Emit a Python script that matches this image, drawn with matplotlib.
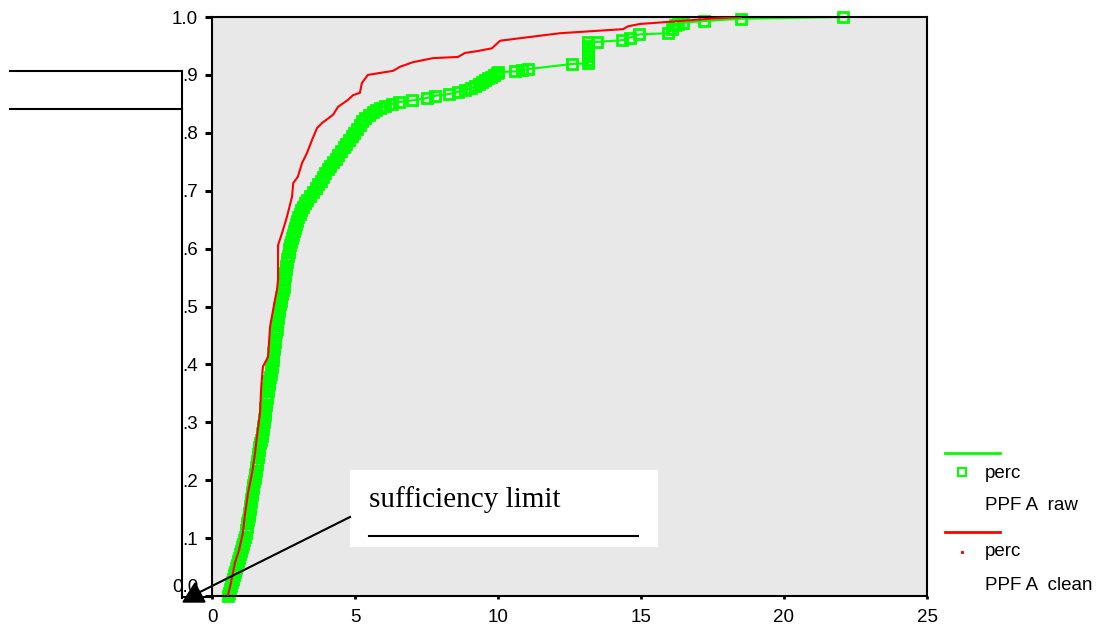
import matplotlib
matplotlib.use("Agg")
import matplotlib.pyplot as plt
from matplotlib.lines import Line2D
from matplotlib.patches import Polygon, Rectangle

# PPF A raw (green, square markers)
raw_x = [0.56, 0.60, 0.63, 0.66, 0.70, 0.73, 0.76, 0.79, 0.83, 0.87, 0.90, 0.94, 0.98, 1.02, 1.05,
         1.08, 1.11, 1.14, 1.18, 1.20, 1.22, 1.24, 1.26, 1.28, 1.30, 1.32, 1.34, 1.35, 1.37, 1.39,
         1.41, 1.43, 1.45, 1.47, 1.49, 1.51, 1.53, 1.55, 1.57, 1.58, 1.60, 1.62, 1.64, 1.66, 1.69,
         1.72, 1.75, 1.76, 1.78, 1.79, 1.81, 1.83, 1.85, 1.86, 1.87, 1.89, 1.90, 1.92, 1.93, 1.95,
         1.97, 1.99, 2.01, 2.03, 2.05, 2.07, 2.09, 2.11, 2.12, 2.14, 2.15, 2.17, 2.18, 2.20, 2.21,
         2.22, 2.24, 2.26, 2.27, 2.29, 2.30, 2.32, 2.34, 2.36, 2.38, 2.41, 2.43, 2.46, 2.49, 2.51,
         2.52, 2.53, 2.55, 2.56, 2.57, 2.59, 2.61, 2.63, 2.65, 2.68, 2.70, 2.73, 2.76, 2.79, 2.82,
         2.85, 2.90, 2.94, 2.97, 3.00, 3.06, 3.12, 3.18, 3.24, 3.32, 3.42, 3.52, 3.62, 3.72, 3.80,
         3.88, 3.96, 4.04, 4.14, 4.23, 4.32, 4.42, 4.52, 4.60, 4.68, 4.78, 4.88, 4.98, 5.08, 5.16,
         5.24, 5.35, 5.48, 5.62, 5.75, 5.87, 6.05, 6.30, 6.55, 7.00, 7.50, 7.80, 8.30, 8.60, 8.85,
         9.05, 9.20, 9.35, 9.44, 9.55, 9.65, 9.75, 9.85, 9.95, 10.00, 10.60, 10.85, 11.05, 12.60,
         13.15, 13.15, 13.15, 13.15, 13.15, 13.15, 13.15, 13.47, 14.34, 14.60, 14.94, 15.95, 16.08,
         16.20, 16.30, 16.48, 17.20, 18.50, 22.07]
raw_y = [0.000, 0.006, 0.012, 0.018, 0.024, 0.030, 0.036, 0.042, 0.048, 0.054, 0.060, 0.066, 0.072,
         0.078, 0.084, 0.090, 0.096, 0.102, 0.108, 0.114, 0.120, 0.126, 0.132, 0.138, 0.144, 0.150,
         0.156, 0.162, 0.168, 0.174, 0.180, 0.186, 0.192, 0.198, 0.204, 0.210, 0.216, 0.222, 0.228,
         0.234, 0.240, 0.246, 0.252, 0.258, 0.264, 0.270, 0.276, 0.282, 0.288, 0.294, 0.300, 0.306,
         0.312, 0.318, 0.324, 0.330, 0.336, 0.342, 0.348, 0.354, 0.360, 0.366, 0.372, 0.378, 0.384,
         0.390, 0.396, 0.402, 0.408, 0.414, 0.420, 0.426, 0.432, 0.438, 0.444, 0.450, 0.456, 0.462,
         0.468, 0.474, 0.480, 0.486, 0.492, 0.498, 0.504, 0.510, 0.516, 0.522, 0.528, 0.534, 0.540,
         0.546, 0.552, 0.558, 0.564, 0.570, 0.576, 0.582, 0.588, 0.594, 0.600, 0.606, 0.612, 0.618,
         0.624, 0.630, 0.636, 0.642, 0.648, 0.654, 0.660, 0.666, 0.672, 0.678, 0.684, 0.690, 0.697,
         0.704, 0.711, 0.717, 0.724, 0.731, 0.737, 0.743, 0.749, 0.755, 0.762, 0.769, 0.775, 0.781,
         0.788, 0.794, 0.800, 0.807, 0.814, 0.821, 0.826, 0.831, 0.836, 0.840, 0.843, 0.846, 0.850,
         0.853, 0.856, 0.860, 0.864, 0.867, 0.871, 0.874, 0.877, 0.880, 0.884, 0.888, 0.891, 0.894,
         0.897, 0.900, 0.903, 0.905, 0.906, 0.908, 0.910, 0.919, 0.920, 0.926, 0.932, 0.938, 0.944,
         0.950, 0.956, 0.957, 0.960, 0.964, 0.970, 0.972, 0.980, 0.986, 0.988, 0.990, 0.993, 0.997,
         1.000]

# PPF A clean (red line)
clean_x = [0.55, 0.65, 0.80, 0.95, 1.08, 1.15, 1.26, 1.40, 1.50, 1.57, 1.68, 1.72, 1.78, 1.96, 2.03,
           2.20, 2.27, 2.31, 2.31, 2.45, 2.62, 2.80, 2.84, 3.00, 3.15, 3.32, 3.50, 3.67, 3.85, 4.23,
           4.41, 4.76, 4.93, 5.17, 5.24, 5.45, 6.33, 6.57, 7.03, 7.73, 8.60, 8.85, 9.27, 9.79, 10.07,
           10.87, 12.17, 14.37, 14.55, 14.97, 16.36, 17.40, 18.50]
clean_y = [0.000, 0.020, 0.057, 0.080, 0.109, 0.140, 0.178, 0.212, 0.245, 0.275, 0.316, 0.360, 0.396,
           0.413, 0.465, 0.511, 0.528, 0.546, 0.606, 0.627, 0.655, 0.690, 0.713, 0.724, 0.748, 0.765,
           0.788, 0.808, 0.817, 0.831, 0.845, 0.857, 0.865, 0.869, 0.886, 0.900, 0.907, 0.914, 0.922,
           0.929, 0.931, 0.938, 0.941, 0.946, 0.959, 0.964, 0.972, 0.979, 0.984, 0.988, 0.993, 0.997,
           1.000]

x_ticks = [0, 5, 10, 15, 20, 25]
y_ticks = [0.0, 0.1, 0.2, 0.3, 0.4, 0.5, 0.6, 0.7, 0.8, 0.9, 1.0]
y_tick_labels = ['0.0', '.1', '.2', '.3', '.4', '.5', '.6', '.7', '.8', '.9', '1.0']

GREEN = '#00ff00'
RED = '#ff0000'
W, H = 1099, 624

plt.rcParams['font.family'] = ['Liberation Sans', 'DejaVu Sans']

fig = plt.figure(figsize=(W / 100, H / 100), dpi=100)
ax = fig.add_axes([212 / W, 1 - 596 / H, (927 - 212) / W, (596 - 17) / H])
ax.set_facecolor('#e8e8e8')

ax.plot(raw_x, raw_y, color=GREEN, lw=1.5, marker='s', ms=7, mfc='none', mec=GREEN, mew=2.0,
        zorder=2, clip_on=False)
ax.plot(clean_x, clean_y, color=RED, lw=1.5, zorder=3)

ax.set_xlim(0, 25)
ax.set_ylim(0, 1)
ax.set_xticks(x_ticks)
ax.set_yticks(y_ticks)
ax.set_yticklabels(y_tick_labels)
ax.tick_params(axis='y', direction='out', length=5, width=2.2, labelsize=13.5, pad=5)
ax.tick_params(axis='x', direction='out', length=2, width=2, labelsize=13.5, pad=7)
ax.get_yticklabels()[0].set_va('bottom')
for s in ax.spines.values():
    s.set_linewidth(1.5)
    s.set_color('black')


def fp(x, y):
    return (x / W, 1 - y / H)


def fline(x0, y0, x1, y1, color='black', lw=1.5):
    a, b = fp(x0, y0)
    c, d = fp(x1, y1)
    fig.add_artist(Line2D([a, c], [b, d], transform=fig.transFigure, color=color, lw=lw,
                          zorder=6))


# stray frame lines on the left
fline(10, 71, 182, 71)
fline(10, 109, 182, 109)
fline(182, 71, 182, 598)
fline(182, 597, 212, 597)

# annotation: triangle, pointer line and text box
fig.add_artist(Polygon([fp(183, 602), fp(205, 602), fp(195, 583)], closed=True,
                       transform=fig.transFigure, color='black', zorder=4))
fline(200, 592, 350, 517)
bx, by = fp(350, 547)
fig.add_artist(Rectangle((bx, by), (658 - 350) / W, (547 - 470) / H, transform=fig.transFigure,
                         facecolor='white', edgecolor='none', zorder=3))
tx, ty = fp(369, 507)
fig.text(tx, ty, 'sufficiency limit', family=['Liberation Serif', 'DejaVu Serif'], fontsize=21,
         va='baseline', ha='left', zorder=7)
fline(369, 536, 638, 536)

# legend
fline(945, 453, 1000, 453, color=GREEN, lw=2)
mx, my = fp(962, 472)
fig.add_artist(Line2D([mx], [my], transform=fig.transFigure, marker='s', ms=6, mfc='none',
                      mec=GREEN, mew=1.5, ls='none'))
fline(945, 532, 1000, 532, color=RED, lw=2)
rx, ry = fp(962, 552)
fig.add_artist(Line2D([rx], [ry], transform=fig.transFigure, marker='s', ms=1.2, mfc=RED,
                      mec=RED, ls='none'))
for label, yy in [('perc', 473), ('PPF A  raw', 505), ('perc', 552), ('PPF A  clean', 585)]:
    lx, ly = fp(985, yy)
    fig.text(lx, ly, label, fontsize=13.5, va='center', ha='left')

fig.savefig('out.png', dpi=100)
